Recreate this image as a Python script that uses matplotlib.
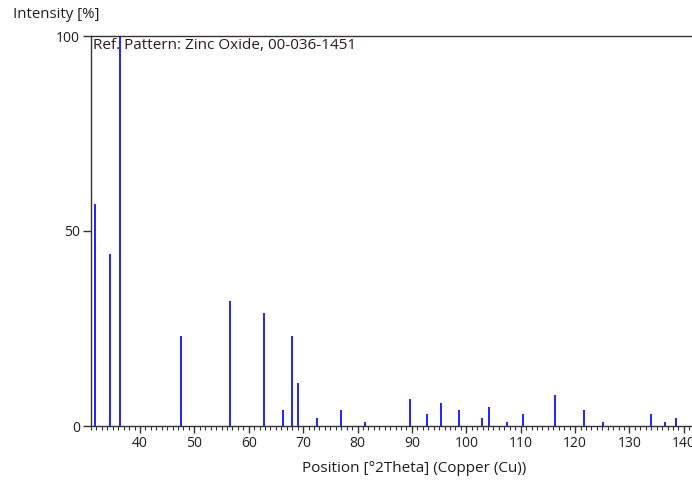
import matplotlib
matplotlib.use("Agg")
import matplotlib.pyplot as plt
from matplotlib.ticker import MultipleLocator

# ZnO reference pattern 00-036-1451 (position in deg 2theta, relative intensity %)
positions = [31.770, 34.422, 36.253, 47.539, 56.603, 62.864, 66.380, 67.963,
             69.100, 72.562, 76.955, 81.370, 89.607, 92.784, 95.304, 98.613,
             102.946, 104.134, 107.430, 110.392, 116.279, 121.572, 125.188,
             133.932, 136.520, 138.513]
intensities = [57, 44, 100, 23, 32, 29, 4, 23,
               11, 2, 4, 1, 7, 3, 6, 4,
               2, 5, 1, 3, 8, 4, 1,
               3, 1, 2]
x_ticks = [40, 50, 60, 70, 80, 90, 100, 110, 120, 130, 140]
y_ticks = [0, 50, 100]

plt.rcParams['font.family'] = ['Open Sans', 'DejaVu Sans']
text_color = '#1e1e1e'

fig = plt.figure(figsize=(6.92, 4.8), dpi=100)
ax = fig.add_axes([91 / 692, 1 - 426 / 480, 1 - 91 / 692, 390 / 480])

ax.vlines(positions, 0, intensities, colors='#1010ff', linewidth=1.3, zorder=3)

ax.set_xlim(31.0, 141.5)
ax.set_ylim(0, 100)
ax.set_xticks(x_ticks)
ax.set_yticks(y_ticks)
ax.xaxis.set_minor_locator(MultipleLocator(1))

for s in ['left', 'bottom', 'top']:
    ax.spines[s].set_color('#333333')
    ax.spines[s].set_linewidth(1.0)
ax.spines['right'].set_visible(False)

ax.tick_params(axis='x', which='major', length=5, width=1, color='#333333',
               labelsize=10, labelcolor=text_color, pad=2)
ax.tick_params(axis='x', which='minor', length=3, width=0.8, color='#333333')
ax.tick_params(axis='y', which='major', length=6, width=1, color='#333333',
               labelsize=10, labelcolor=text_color, pad=2)

ax.text(0.004, 0.995, 'Ref. Pattern: Zinc Oxide, 00-036-1451', transform=ax.transAxes,
        ha='left', va='top', fontsize=11, color='#2a1a1a')

fig.text(13 / 692, 1 - 15 / 480, 'Intensity [%]', ha='left', va='center',
         fontsize=10.8, color=text_color)
fig.text(414 / 692, 1 - 468 / 480, 'Position [°2Theta] (Copper (Cu))', ha='center',
         va='center', fontsize=11, color=text_color)

fig.savefig('out.png', dpi=100)
